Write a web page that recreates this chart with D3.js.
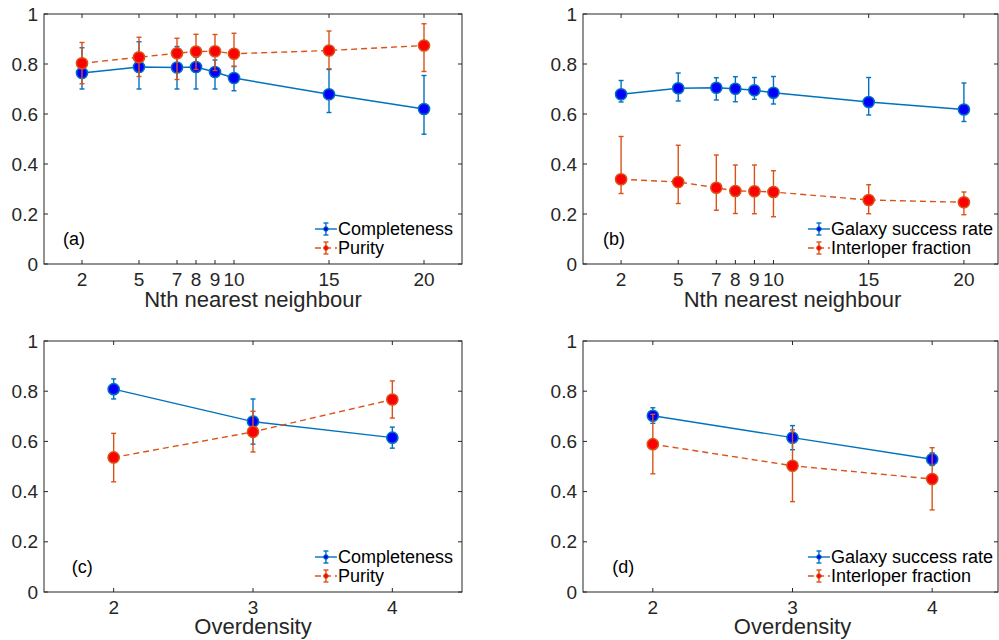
<!DOCTYPE html>
<html>
<head>
<meta charset="utf-8">
<script src="https://cdn.jsdelivr.net/npm/d3@7"></script>
<style>
  body { margin: 0; background: #fff; }
  svg { display: block; font-family: "Liberation Sans", Arial, Helvetica, sans-serif; }
  .tick-label { font-size: 19px; fill: #262626; }
  .axis-title { font-size: 22px; fill: #262626; }
  .legend-text { font-size: 18px; fill: #000; }
</style>
</head>
<body>
<svg id="chart" width="999" height="640"></svg>
<script>
// x values
var nnX = [2, 5, 7, 8, 9, 10, 15, 20];
var odX = [2, 3, 4];
var yTicks = [0, 0.2, 0.4, 0.6, 0.8, 1];
var yTickLabels = ["0", "0.2", "0.4", "0.6", "0.8", "1"];

// (a) completeness / purity vs Nth nearest neighbour
var completenessNN   = [0.764, 0.788, 0.786, 0.788, 0.768, 0.744, 0.679, 0.620];
var completenessNNHi = [0.865, 0.889, 0.870, 0.827, 0.816, 0.790, 0.778, 0.754];
var completenessNNLo = [0.700, 0.700, 0.700, 0.700, 0.700, 0.693, 0.606, 0.519];
var purityNN   = [0.803, 0.827, 0.843, 0.850, 0.851, 0.841, 0.854, 0.874];
var purityNNHi = [0.886, 0.907, 0.903, 0.919, 0.918, 0.923, 0.932, 0.961];
var purityNNLo = [0.721, 0.750, 0.738, 0.778, 0.774, 0.791, 0.781, 0.770];

// (b) galaxy success rate / interloper fraction vs Nth nearest neighbour
var successNN   = [0.679, 0.703, 0.705, 0.701, 0.695, 0.685, 0.648, 0.618];
var successNNHi = [0.734, 0.764, 0.745, 0.749, 0.746, 0.750, 0.746, 0.724];
var successNNLo = [0.648, 0.652, 0.656, 0.649, 0.659, 0.640, 0.596, 0.570];
var interloperNN   = [0.339, 0.328, 0.305, 0.292, 0.291, 0.288, 0.256, 0.247];
var interloperNNHi = [0.510, 0.475, 0.436, 0.396, 0.396, 0.373, 0.317, 0.288];
var interloperNNLo = [0.282, 0.242, 0.215, 0.202, 0.201, 0.189, 0.201, 0.197];

// (c) completeness / purity vs overdensity
var completenessOD   = [0.808, 0.679, 0.615];
var completenessODHi = [0.849, 0.769, 0.657];
var completenessODLo = [0.769, 0.589, 0.573];
var purityOD   = [0.536, 0.638, 0.767];
var purityODHi = [0.632, 0.720, 0.841];
var purityODLo = [0.439, 0.558, 0.693];

// (d) galaxy success rate / interloper fraction vs overdensity
var successOD   = [0.702, 0.615, 0.529];
var successODHi = [0.734, 0.663, 0.554];
var successODLo = [0.672, 0.567, 0.504];
var interloperOD   = [0.589, 0.503, 0.450];
var interloperODHi = [0.708, 0.646, 0.575];
var interloperODLo = [0.471, 0.360, 0.327];

var blue = {line: "#0072BD", fill: "#0000FF", dash: null};
var red = {line: "#D95319", fill: "#FF0000", dash: "6,4"};
var axisCol = "#262626";

var svg = d3.select("#chart");

function makeSeries(xs, v, hi, lo) {
    return xs.map(function(x, i) { return {x: x, y: v[i], hi: hi[i], lo: lo[i]}; });
}

function drawPanel(p) {
    var x = d3.scaleLinear().domain(p.xDomain).range([p.left, p.right]);
    var y = d3.scaleLinear().domain([0, 1]).range([p.bottom, p.top]);
    var g = svg.append("g");
    var boxRight = Math.min(p.right, 998);

    // ticks, inward on all four sides
    var tl = 4;
    p.xTicks.forEach(function(t) {
        g.append("line").attr("x1", x(t)).attr("x2", x(t)).attr("y1", p.bottom).attr("y2", p.bottom - tl)
            .attr("stroke", axisCol).attr("stroke-width", 1);
        g.append("line").attr("x1", x(t)).attr("x2", x(t)).attr("y1", p.top).attr("y2", p.top + tl)
            .attr("stroke", axisCol).attr("stroke-width", 1);
        g.append("text").attr("class", "tick-label")
            .attr("x", x(t)).attr("y", p.bottom + 22)
            .attr("text-anchor", "middle").text(t);
    });
    yTicks.forEach(function(t, i) {
        g.append("line").attr("x1", p.left).attr("x2", p.left + tl).attr("y1", y(t)).attr("y2", y(t))
            .attr("stroke", axisCol).attr("stroke-width", 1);
        g.append("line").attr("x1", boxRight).attr("x2", boxRight - tl).attr("y1", y(t)).attr("y2", y(t))
            .attr("stroke", axisCol).attr("stroke-width", 1);
        g.append("text").attr("class", "tick-label")
            .attr("x", p.left - 6).attr("y", y(t)).attr("dy", "0.35em")
            .attr("text-anchor", "end").text(yTickLabels[i]);
    });

    // box
    g.append("rect").attr("x", p.left).attr("y", p.top)
        .attr("width", boxRight - p.left).attr("height", p.bottom - p.top)
        .attr("fill", "none").attr("stroke", axisCol).attr("stroke-width", 1);

    g.append("text").attr("class", "axis-title")
        .attr("x", (p.left + p.right) / 2).attr("y", p.bottom + p.titleOffset)
        .attr("text-anchor", "middle").text(p.xTitle);

    g.append("text").attr("class", "legend-text")
        .attr("x", x(p.tag[0])).attr("y", y(0.1)).attr("dy", "0.35em").text(p.tag[1]);

    var line = d3.line().x(function(d) { return x(d.x); }).y(function(d) { return y(d.y); });

    p.series.forEach(function(s) {
        var sg = g.append("g");
        var st = s.style;
        sg.selectAll(".eb").data(s.data).enter().append("line")
            .attr("x1", function(d) { return x(d.x); }).attr("x2", function(d) { return x(d.x); })
            .attr("y1", function(d) { return y(d.lo); }).attr("y2", function(d) { return y(d.hi); })
            .attr("stroke", st.line).attr("stroke-width", 1.4);
        ["lo", "hi"].forEach(function(k) {
            sg.selectAll(".cap-" + k).data(s.data).enter().append("line")
                .attr("x1", function(d) { return x(d.x) - 2.5; }).attr("x2", function(d) { return x(d.x) + 2.5; })
                .attr("y1", function(d) { return y(d[k]); }).attr("y2", function(d) { return y(d[k]); })
                .attr("stroke", st.line).attr("stroke-width", 1.4);
        });
        sg.append("path").datum(s.data).attr("d", line)
            .attr("fill", "none").attr("stroke", st.line).attr("stroke-width", 1.4)
            .attr("stroke-dasharray", st.dash);
        sg.selectAll("circle").data(s.data).enter().append("circle")
            .attr("cx", function(d) { return x(d.x); }).attr("cy", function(d) { return y(d.y); })
            .attr("r", 5.6).attr("fill", st.fill).attr("stroke", st.line).attr("stroke-width", 1.5);
    });

    // legend, right aligned inside the box
    var lg = g.append("g");
    var texts = p.series.map(function(s, i) {
        return lg.append("text").attr("class", "legend-text")
            .attr("y", p.bottom - 35 + i * 19).attr("dy", "0.35em").text(s.name);
    });
    var maxW = d3.max(texts, function(t) { return t.node().getComputedTextLength(); });
    var tx = Math.min(p.right, 1002) - 9 - maxW;
    texts.forEach(function(t) { t.attr("x", tx); });
    p.series.forEach(function(s, i) {
        var ly = p.bottom - 35 + i * 19;
        var cx = tx - 12;
        lg.append("line").attr("x1", tx - 23).attr("x2", tx - 1).attr("y1", ly).attr("y2", ly)
            .attr("stroke", s.style.line).attr("stroke-width", 1.4).attr("stroke-dasharray", s.style.dash);
        lg.append("line").attr("x1", cx).attr("x2", cx).attr("y1", ly - 6).attr("y2", ly + 6)
            .attr("stroke", s.style.line).attr("stroke-width", 1.4);
        [-6, 6].forEach(function(o) {
            lg.append("line").attr("x1", cx - 2.5).attr("x2", cx + 2.5).attr("y1", ly + o).attr("y2", ly + o)
                .attr("stroke", s.style.line).attr("stroke-width", 1.4);
        });
        lg.append("circle").attr("cx", cx).attr("cy", ly).attr("r", 2.3)
            .attr("fill", s.style.fill).attr("stroke", s.style.line).attr("stroke-width", 1);
    });
}

drawPanel({
    left: 44, right: 462, top: 14, bottom: 264, xDomain: [0, 22], xTicks: nnX,
    xTitle: "Nth nearest neighbour", titleOffset: 43, tag: [1, "(a)"],
    series: [
        {name: "Completeness", style: blue, data: makeSeries(nnX, completenessNN, completenessNNHi, completenessNNLo)},
        {name: "Purity", style: red, data: makeSeries(nnX, purityNN, purityNNHi, purityNNLo)}
    ]
});

drawPanel({
    left: 583, right: 1002, top: 14, bottom: 264, xDomain: [0, 22], xTicks: nnX,
    xTitle: "Nth nearest neighbour", titleOffset: 43, tag: [1.05, "(b)"],
    series: [
        {name: "Galaxy success rate", style: blue, data: makeSeries(nnX, successNN, successNNHi, successNNLo)},
        {name: "Interloper fraction", style: red, data: makeSeries(nnX, interloperNN, interloperNNHi, interloperNNLo)}
    ]
});

drawPanel({
    left: 44, right: 462, top: 341, bottom: 592, xDomain: [1.5, 4.5], xTicks: odX,
    xTitle: "Overdensity", titleOffset: 42, tag: [1.7, "(c)"],
    series: [
        {name: "Completeness", style: blue, data: makeSeries(odX, completenessOD, completenessODHi, completenessODLo)},
        {name: "Purity", style: red, data: makeSeries(odX, purityOD, purityODHi, purityODLo)}
    ]
});

drawPanel({
    left: 583, right: 1002, top: 341, bottom: 592, xDomain: [1.5, 4.5], xTicks: odX,
    xTitle: "Overdensity", titleOffset: 42, tag: [1.71, "(d)"],
    series: [
        {name: "Galaxy success rate", style: blue, data: makeSeries(odX, successOD, successODHi, successODLo)},
        {name: "Interloper fraction", style: red, data: makeSeries(odX, interloperOD, interloperODHi, interloperODLo)}
    ]
});
</script>
</body>
</html>
